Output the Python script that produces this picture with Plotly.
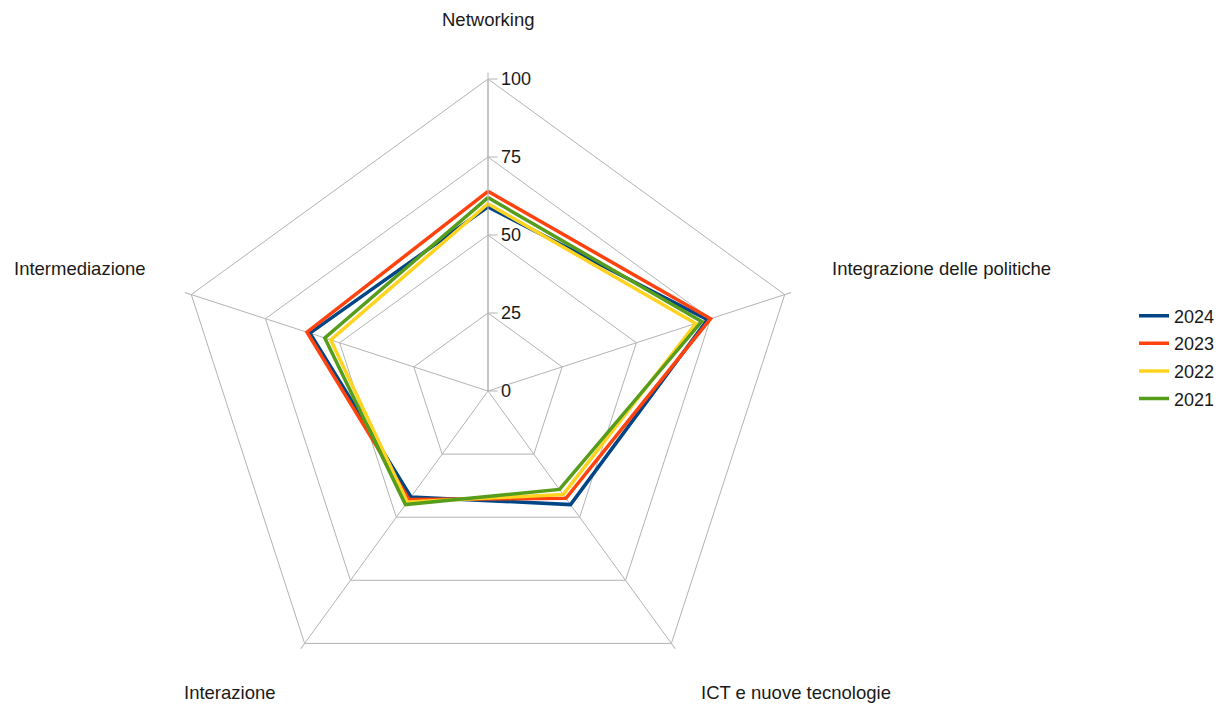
import plotly.graph_objects as go

categories = ["Networking", "Integrazione delle politiche", "ICT e nuove tecnologie",
              "Interazione", "Intermediazione"]
years = ["2024", "2023", "2022", "2021"]
v2024 = [59, 74, 45, 42, 60]
v2023 = [64, 75, 42.5, 43, 61]
v2022 = [60, 70, 41, 44, 53]
v2021 = [62, 72, 39, 45, 55]
series = [v2024, v2023, v2022, v2021]
colors = ["#004586", "#ff420e", "#ffd320", "#579d1c"]
tick_vals = [0, 25, 50, 75, 100]

OFF = 8  # page body margin
W, H = 1229, 708
cx, cy, R = 488 - OFF, 391 - OFF, 312

fig = go.Figure()
for name, vals, col in zip(years, series, colors):
    fig.add_trace(go.Scatterpolar(
        r=vals + [vals[0]], theta=categories + [categories[0]],
        mode="lines", name=name, legendgroup=name,
        line=dict(color=col, width=3.5),
    ))

label_pos = [(488, 20), (941, 268), (796, 692), (230, 692), (80, 268)]
annotations = []
for cat, (x, y) in zip(categories, label_pos):
    annotations.append(dict(x=(x - OFF) / W, y=1 - (y - OFF) / H, xref="paper", yref="paper",
                            text=cat, showarrow=False, xanchor="center", yanchor="middle",
                            font=dict(size=18.5, color="#1a1a1a")))

fig.update_layout(
    width=W, height=H,
    margin=dict(l=0, r=0, t=0, b=0),
    paper_bgcolor="white", plot_bgcolor="white",
    font=dict(family="Liberation Sans, Arial, sans-serif", size=18, color="#1a1a1a"),
    polar=dict(
        domain=dict(x=[(cx - R) / W, (cx + R) / W], y=[(H - cy - R) / H, (H - cy + R) / H]),
        gridshape="linear",
        bgcolor="white",
        radialaxis=dict(range=[0, 100], tickvals=tick_vals, ticktext=[str(t) for t in tick_vals],
                        angle=90, tickangle=90, side="clockwise",
                        showline=True, linecolor="#b3b3b3", linewidth=1,
                        gridcolor="#b3b3b3", gridwidth=1,
                        ticks="outside", ticklen=9, tickcolor="#b3b3b3",
                        tickfont=dict(size=18, color="#1a1a1a")),
        angularaxis=dict(rotation=90, direction="clockwise",
                         showticklabels=False, showline=True, linecolor="#b3b3b3",
                         linewidth=1, gridcolor="#b3b3b3", gridwidth=1,
                         ticks="outside", ticklen=6, tickcolor="#b3b3b3"),
    ),
    showlegend=True,
    legend=dict(x=(1134 - OFF) / W, y=1 - (297.5 - OFF) / H, xanchor="left", yanchor="top",
                font=dict(size=18, color="#1a1a1a"), tracegroupgap=1.2,
                itemwidth=30, bgcolor="rgba(0,0,0,0)"),
    annotations=annotations,
)

fig.write_html("out.html")
